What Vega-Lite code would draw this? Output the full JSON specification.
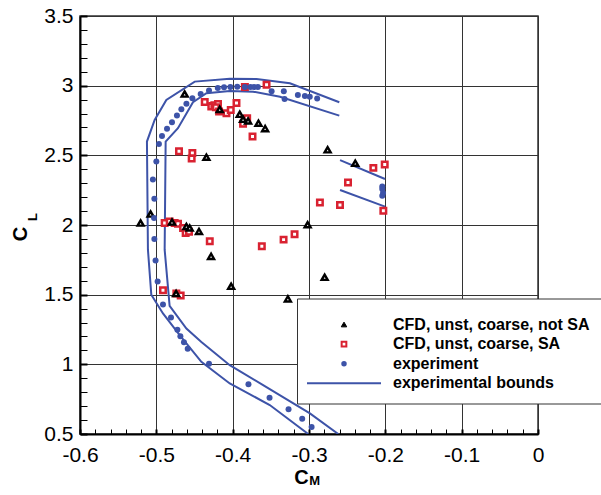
{
  "$schema": "https://vega.github.io/schema/vega-lite/v6.json",
  "autosize": {"type": "none"},
  "width": 458,
  "height": 418,
  "padding": {"left": 80, "top": 16, "right": 63, "bottom": 61},
  "background": "white",
  "config": {
    "view": {"stroke": "#333333", "strokeWidth": 1.5},
    "font": "Liberation Sans"
  },
  "datasets": {
    "exp": [
      {"cm": -0.4419, "cl": 2.94}, {"cm": -0.431, "cl": 2.966}, {"cm": -0.4195, "cl": 2.984}, {"cm": -0.4113, "cl": 2.989},
      {"cm": -0.403, "cl": 2.991}, {"cm": -0.394, "cl": 2.993}, {"cm": -0.384, "cl": 2.99}, {"cm": -0.3767, "cl": 2.99},
      {"cm": -0.372, "cl": 2.99}, {"cm": -0.367, "cl": 2.99}, {"cm": -0.349, "cl": 2.96}, {"cm": -0.333, "cl": 2.96},
      {"cm": -0.332, "cl": 2.905}, {"cm": -0.3146, "cl": 2.933}, {"cm": -0.3054, "cl": 2.926}, {"cm": -0.299, "cl": 2.921},
      {"cm": -0.2893, "cl": 2.907}, {"cm": -0.4528, "cl": 2.91}, {"cm": -0.4606, "cl": 2.871}, {"cm": -0.4672, "cl": 2.831},
      {"cm": -0.473, "cl": 2.785}, {"cm": -0.4795, "cl": 2.738}, {"cm": -0.486, "cl": 2.69}, {"cm": -0.4926, "cl": 2.638},
      {"cm": -0.4966, "cl": 2.582}, {"cm": -0.5, "cl": 2.456}, {"cm": -0.5045, "cl": 2.327}, {"cm": -0.5026, "cl": 2.188},
      {"cm": -0.503, "cl": 2.05}, {"cm": -0.5026, "cl": 1.9}, {"cm": -0.501, "cl": 1.746}, {"cm": -0.4983, "cl": 1.594},
      {"cm": -0.4913, "cl": 1.43}, {"cm": -0.4808, "cl": 1.337}, {"cm": -0.4724, "cl": 1.249}, {"cm": -0.4685, "cl": 1.201},
      {"cm": -0.4638, "cl": 1.158}, {"cm": -0.4589, "cl": 1.111}, {"cm": -0.431, "cl": 1.005}, {"cm": -0.3793, "cl": 0.857},
      {"cm": -0.3517, "cl": 0.761}, {"cm": -0.3268, "cl": 0.677}, {"cm": -0.3089, "cl": 0.609}, {"cm": -0.2966, "cl": 0.551},
      {"cm": -0.204, "cl": 2.277}, {"cm": -0.204, "cl": 2.258}, {"cm": -0.203, "cl": 2.23}, {"cm": -0.204, "cl": 2.21}
    ],
    "sa": [
      {"cm": -0.4366, "cl": 2.883}, {"cm": -0.4265, "cl": 2.855}, {"cm": -0.428, "cl": 2.85}, {"cm": -0.424, "cl": 2.86},
      {"cm": -0.4192, "cl": 2.869}, {"cm": -0.422, "cl": 2.845}, {"cm": -0.4178, "cl": 2.814}, {"cm": -0.4081, "cl": 2.802},
      {"cm": -0.4025, "cl": 2.826}, {"cm": -0.395, "cl": 2.876}, {"cm": -0.384, "cl": 2.99}, {"cm": -0.3556, "cl": 3.007},
      {"cm": -0.381, "cl": 2.766}, {"cm": -0.3864, "cl": 2.726}, {"cm": -0.374, "cl": 2.635}, {"cm": -0.4703, "cl": 2.53},
      {"cm": -0.4528, "cl": 2.516}, {"cm": -0.4537, "cl": 2.477}, {"cm": -0.2008, "cl": 2.434}, {"cm": -0.2157, "cl": 2.41},
      {"cm": -0.2489, "cl": 2.305}, {"cm": -0.2857, "cl": 2.162}, {"cm": -0.2594, "cl": 2.143}, {"cm": -0.2026, "cl": 2.102},
      {"cm": -0.4891, "cl": 2.014}, {"cm": -0.4825, "cl": 2.026}, {"cm": -0.476, "cl": 2.014}, {"cm": -0.4716, "cl": 2.009},
      {"cm": -0.465, "cl": 1.979}, {"cm": -0.4616, "cl": 1.943}, {"cm": -0.4572, "cl": 1.952}, {"cm": -0.43, "cl": 1.883},
      {"cm": -0.3618, "cl": 1.847}, {"cm": -0.3333, "cl": 1.895}, {"cm": -0.3189, "cl": 1.933}, {"cm": -0.4913, "cl": 1.532},
      {"cm": -0.4738, "cl": 1.508}, {"cm": -0.4681, "cl": 1.494}
    ],
    "nosa": [
      {"cm": -0.4629, "cl": 2.94}, {"cm": -0.4344, "cl": 2.487}, {"cm": -0.417, "cl": 2.83}, {"cm": -0.3907, "cl": 2.795},
      {"cm": -0.3864, "cl": 2.759}, {"cm": -0.3798, "cl": 2.747}, {"cm": -0.3662, "cl": 2.731}, {"cm": -0.3575, "cl": 2.692},
      {"cm": -0.2756, "cl": 2.54}, {"cm": -0.2394, "cl": 2.444}, {"cm": -0.5075, "cl": 2.079}, {"cm": -0.5206, "cl": 2.014},
      {"cm": -0.3018, "cl": 2.002}, {"cm": -0.4795, "cl": 2.021}, {"cm": -0.4606, "cl": 1.99}, {"cm": -0.4563, "cl": 1.979},
      {"cm": -0.4441, "cl": 1.954}, {"cm": -0.4283, "cl": 1.775}, {"cm": -0.402, "cl": 1.56}, {"cm": -0.2795, "cl": 1.625},
      {"cm": -0.3277, "cl": 1.47}, {"cm": -0.4741, "cl": 1.508}
    ],
    "bounds": [
      {"series": "experimental bounds", "seg": "outer", "ord": 1, "cm": -0.2603, "cl": 2.881},
      {"series": "experimental bounds", "seg": "outer", "ord": 2, "cm": -0.325, "cl": 3.017},
      {"series": "experimental bounds", "seg": "outer", "ord": 3, "cm": -0.3688, "cl": 3.048},
      {"series": "experimental bounds", "seg": "outer", "ord": 4, "cm": -0.4038, "cl": 3.05},
      {"series": "experimental bounds", "seg": "outer", "ord": 5, "cm": -0.4497, "cl": 3.029},
      {"series": "experimental bounds", "seg": "outer", "ord": 6, "cm": -0.4869, "cl": 2.898},
      {"series": "experimental bounds", "seg": "outer", "ord": 7, "cm": -0.5022, "cl": 2.754},
      {"series": "experimental bounds", "seg": "outer", "ord": 8, "cm": -0.5123, "cl": 2.599},
      {"series": "experimental bounds", "seg": "outer", "ord": 9, "cm": -0.511, "cl": 1.823},
      {"series": "experimental bounds", "seg": "outer", "ord": 10, "cm": -0.5066, "cl": 1.5},
      {"series": "experimental bounds", "seg": "outer", "ord": 11, "cm": -0.4913, "cl": 1.365},
      {"series": "experimental bounds", "seg": "outer", "ord": 12, "cm": -0.4694, "cl": 1.209},
      {"series": "experimental bounds", "seg": "outer", "ord": 13, "cm": -0.441, "cl": 1.018},
      {"series": "experimental bounds", "seg": "outer", "ord": 14, "cm": -0.4038, "cl": 0.863},
      {"series": "experimental bounds", "seg": "outer", "ord": 15, "cm": -0.3514, "cl": 0.708},
      {"series": "experimental bounds", "seg": "outer", "ord": 16, "cm": -0.301, "cl": 0.5},
      {"series": "experimental bounds", "seg": "inner", "ord": 1, "cm": -0.2603, "cl": 2.785},
      {"series": "experimental bounds", "seg": "inner", "ord": 2, "cm": -0.338, "cl": 2.921},
      {"series": "experimental bounds", "seg": "inner", "ord": 3, "cm": -0.3732, "cl": 2.957},
      {"series": "experimental bounds", "seg": "inner", "ord": 4, "cm": -0.4038, "cl": 2.962},
      {"series": "experimental bounds", "seg": "inner", "ord": 5, "cm": -0.4344, "cl": 2.946},
      {"series": "experimental bounds", "seg": "inner", "ord": 6, "cm": -0.452, "cl": 2.881},
      {"series": "experimental bounds", "seg": "inner", "ord": 7, "cm": -0.4717, "cl": 2.695},
      {"series": "experimental bounds", "seg": "inner", "ord": 8, "cm": -0.4878, "cl": 2.599},
      {"series": "experimental bounds", "seg": "inner", "ord": 9, "cm": -0.4891, "cl": 1.823},
      {"series": "experimental bounds", "seg": "inner", "ord": 10, "cm": -0.4826, "cl": 1.42},
      {"series": "experimental bounds", "seg": "inner", "ord": 11, "cm": -0.4606, "cl": 1.257},
      {"series": "experimental bounds", "seg": "inner", "ord": 12, "cm": -0.441, "cl": 1.161},
      {"series": "experimental bounds", "seg": "inner", "ord": 13, "cm": -0.4038, "cl": 0.994},
      {"series": "experimental bounds", "seg": "inner", "ord": 14, "cm": -0.3601, "cl": 0.851},
      {"series": "experimental bounds", "seg": "inner", "ord": 15, "cm": -0.2988, "cl": 0.648},
      {"series": "experimental bounds", "seg": "inner", "ord": 16, "cm": -0.2617, "cl": 0.5},
      {"series": "experimental bounds", "seg": "upper", "ord": 1, "cm": -0.2593, "cl": 2.466},
      {"series": "experimental bounds", "seg": "upper", "ord": 2, "cm": -0.2004, "cl": 2.33},
      {"series": "experimental bounds", "seg": "lower", "ord": 1, "cm": -0.2593, "cl": 2.251},
      {"series": "experimental bounds", "seg": "lower", "ord": 2, "cm": -0.2004, "cl": 2.132}
    ]
  },
  "layer": [
    {
      "data": {"name": "bounds"},
      "mark": {"type": "line", "strokeWidth": 2, "clip": true},
      "encoding": {
        "x": {
          "field": "cm", "type": "quantitative",
          "scale": {"domain": [-0.6, 0], "nice": false, "zero": false},
          "axis": {
            "orient": "bottom",
            "values": [-0.6, -0.58, -0.56, -0.54, -0.52, -0.5, -0.48, -0.46, -0.44, -0.42, -0.4, -0.38, -0.36, -0.34, -0.32, -0.3, -0.28, -0.26, -0.24, -0.22, -0.2, -0.18, -0.16, -0.14, -0.12, -0.1, -0.08, -0.06, -0.04, -0.02, 0],
            "labelExpr": "abs(datum.value*10 - round(datum.value*10)) < 0.001 ? toString(round(datum.value*10)/10) : ''",
            "grid": true, "gridColor": "#333333", "gridWidth": 1,
            "gridOpacity": {"condition": {"test": "abs(datum.value*10 - round(datum.value*10)) < 0.001", "value": 1}, "value": 0},
            "ticks": true, "tickSize": -5, "tickColor": "black", "tickOpacity": 1,
            "tickWidth": {"condition": {"test": "abs(datum.value*10 - round(datum.value*10)) < 0.001", "value": 2}, "value": 1},
            "domainColor": "black", "domainWidth": 2,
            "labelFontSize": 21, "labelColor": "black", "labelPadding": 15,
            "labelFlush": false, "labelOverlap": false,
            "title": "C", "titleFontSize": 20, "titleFontWeight": "bold", "titleColor": "black",
            "titleX": 221, "titleY": 49, "titleAlign": "center", "titleBaseline": "alphabetic"
          }
        },
        "y": {
          "field": "cl", "type": "quantitative",
          "scale": {"domain": [0.5, 3.5], "nice": false, "zero": false},
          "axis": {
            "orient": "left",
            "values": [0.5, 0.6, 0.7, 0.8, 0.9, 1, 1.1, 1.2, 1.3, 1.4, 1.5, 1.6, 1.7, 1.8, 1.9, 2, 2.1, 2.2, 2.3, 2.4, 2.5, 2.6, 2.7, 2.8, 2.9, 3, 3.1, 3.2, 3.3, 3.4, 3.5],
            "labelExpr": "abs(datum.value*2 - round(datum.value*2)) < 0.001 ? toString(round(datum.value*2)/2) : ''",
            "grid": true, "gridColor": "#333333", "gridWidth": 1,
            "gridOpacity": {"condition": {"test": "abs(datum.value*2 - round(datum.value*2)) < 0.001", "value": 1}, "value": 0},
            "ticks": true, "tickSize": -7, "tickColor": "black", "tickOpacity": 1,
            "tickWidth": {"condition": {"test": "abs(datum.value*2 - round(datum.value*2)) < 0.001", "value": 2}, "value": 1},
            "domainColor": "black", "domainWidth": 2,
            "labelFontSize": 21, "labelColor": "black", "labelPadding": 14,
            "labelFlush": false, "labelOverlap": false,
            "title": "C", "titleFontSize": 20, "titleFontWeight": "bold", "titleColor": "black",
            "titleAngle": 270, "titleX": -54, "titleY": 217.5, "titleAlign": "center", "titleBaseline": "alphabetic"
          }
        },
        "detail": {"field": "seg"},
        "order": {"field": "ord", "type": "quantitative"},
        "color": {
          "field": "series", "type": "nominal",
          "scale": {
            "domain": ["CFD, unst, coarse, not SA", "CFD, unst, coarse, SA", "experiment", "experimental bounds"],
            "range": ["black", "#D92231", "#3D53A8", "#3D53A8"]
          },
          "legend": {
            "orient": "none", "legendX": 217, "legendY": 282.5,
            "title": " ", "titleFontSize": 3, "titlePadding": 3,
            "padding": 12, "strokeColor": "#333333", "fillColor": "white",
            "labelFont": "Liberation Sans", "labelFontSize": 16, "labelFontWeight": "bold", "labelColor": "black",
            "labelLimit": 400, "rowPadding": 3.6,
            "encode": {
              "symbols": {
                "update": {
                  "shape": {"signal": "datum.value == 'experimental bounds' ? 'stroke' : datum.value == 'experiment' ? 'circle' : datum.value == 'CFD, unst, coarse, SA' ? 'square' : 'triangle-up'"},
                  "size": {"signal": "datum.value == 'experimental bounds' ? 5476 : datum.value == 'experiment' ? 30 : datum.value == 'CFD, unst, coarse, SA' ? 22 : 30"},
                  "fill": {"signal": "datum.value == 'experimental bounds' ? 'transparent' : datum.value == 'experiment' ? '#3D53A8' : datum.value == 'CFD, unst, coarse, SA' ? 'white' : 'black'"},
                  "stroke": {"signal": "datum.value == 'CFD, unst, coarse, not SA' ? 'black' : datum.value == 'CFD, unst, coarse, SA' ? '#D92231' : '#3D53A8'"},
                  "strokeWidth": {"signal": "datum.value == 'experiment' ? 0 : datum.value == 'CFD, unst, coarse, not SA' ? 1 : 2"},
                  "opacity": {"value": 1},
                  "x": {"value": 35}
                }
              },
              "labels": {"update": {"x": {"value": 84}}}
            }
          }
        }
      }
    },
    {
      "data": {"name": "sa"},
      "mark": {"type": "point", "shape": "square", "filled": false, "fill": "white", "stroke": "#D92231", "strokeWidth": 2.5, "size": 30, "opacity": 1},
      "encoding": {
        "x": {"field": "cm", "type": "quantitative", "scale": {"domain": [-0.6, 0], "nice": false, "zero": false}, "axis": null},
        "y": {"field": "cl", "type": "quantitative", "scale": {"domain": [0.5, 3.5], "nice": false, "zero": false}, "axis": null}
      }
    },
    {
      "data": {"name": "nosa"},
      "mark": {"type": "point", "shape": "triangle-up", "filled": false, "fill": "white", "stroke": "black", "strokeWidth": 2.4, "size": 36, "opacity": 1},
      "encoding": {
        "x": {"field": "cm", "type": "quantitative", "scale": {"domain": [-0.6, 0], "nice": false, "zero": false}, "axis": null},
        "y": {"field": "cl", "type": "quantitative", "scale": {"domain": [0.5, 3.5], "nice": false, "zero": false}, "axis": null}
      }
    },
    {
      "data": {"name": "exp"},
      "mark": {"type": "circle", "size": 36, "color": "#3D53A8", "opacity": 1},
      "encoding": {
        "x": {"field": "cm", "type": "quantitative", "scale": {"domain": [-0.6, 0], "nice": false, "zero": false}, "axis": null},
        "y": {"field": "cl", "type": "quantitative", "scale": {"domain": [0.5, 3.5], "nice": false, "zero": false}, "axis": null}
      }
    },
    {
      "data": {"values": [{}]},
      "mark": {"type": "text", "text": "M", "font": "Liberation Sans", "fontSize": 13, "fontWeight": "bold", "color": "black", "align": "center", "baseline": "alphabetic"},
      "encoding": {
        "x": {"datum": -0.2925, "type": "quantitative", "scale": {"domain": [-0.6, 0], "nice": false, "zero": false}, "axis": null},
        "y": {"datum": 0.134, "type": "quantitative", "scale": {"domain": [0.5, 3.5], "nice": false, "zero": false}, "axis": null}
      }
    },
    {
      "data": {"values": [{}]},
      "mark": {"type": "text", "text": "L", "font": "Liberation Sans", "fontSize": 13, "fontWeight": "bold", "color": "black", "align": "center", "baseline": "alphabetic", "angle": 270},
      "encoding": {
        "x": {"datum": -0.6563, "type": "quantitative", "scale": {"domain": [-0.6, 0], "nice": false, "zero": false}, "axis": null},
        "y": {"datum": 2.0575, "type": "quantitative", "scale": {"domain": [0.5, 3.5], "nice": false, "zero": false}, "axis": null}
      }
    }
  ],
  "resolve": {"axis": {"x": "independent", "y": "independent"}}
}
